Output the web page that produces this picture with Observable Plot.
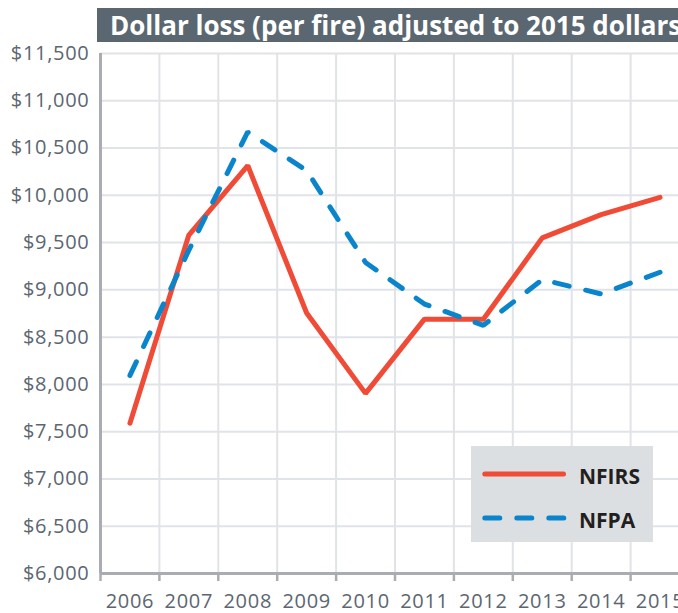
<!DOCTYPE html>
<html>
<head>
<meta charset="utf-8">
<script src="https://cdn.jsdelivr.net/npm/d3@7"></script>
<script src="https://cdn.jsdelivr.net/npm/@observablehq/plot@0.6"></script>
<style>
  html, body { margin: 0; padding: 0; background: #fff; overflow: hidden; width: 678px; height: 613px; }
  #wrap { position: relative; width: 678px; height: 613px; }
  #title { position: absolute; left: 97px; top: 8px; width: 600px; height: 34px; background: #5b6770;
    color: #fff; font-family: 'Open Sans', sans-serif; font-weight: 700; font-size: 26px; line-height: 34px;
    padding-left: 13px; white-space: nowrap; overflow: hidden; box-sizing: border-box; }
  #chart { position: absolute; left: 0; top: 0; }
  #legend { position: absolute; left: 471px; top: 446px; width: 182px; height: 96px; background: #dcdfe2; }
  #chart svg text { letter-spacing: 0.7px; }
</style>
</head>
<body>
<div id="wrap">
  <div id="chart"></div>
  <div id="title">Dollar loss (per fire) adjusted to 2015 dollars</div>
  <div id="legend"></div>
</div>
<script>
const years = [2006, 2007, 2008, 2009, 2010, 2011, 2012, 2013, 2014, 2015];
const nfirs = [7590, 9580, 10315, 8755, 7905, 8690, 8690, 9550, 9795, 9978];
const nfpa  = [8095, 9420, 10670, 10262, 9290, 8850, 8625, 9108, 8957, 9186];
const yTicks = [6000, 6500, 7000, 7500, 8000, 8500, 9000, 9500, 10000, 10500, 11000, 11500];
const yearBounds = [2005.5, 2006.5, 2007.5, 2008.5, 2009.5, 2010.5, 2011.5, 2012.5, 2013.5, 2014.5, 2015.5];
const seriesNames = ["NFIRS", "NFPA"];
const colors = ["#ef4b36", "#0a85cc"];

const rowsNfirs = years.map((y, i) => ({year: y, value: nfirs[i]}));
const rowsNfpa = years.map((y, i) => ({year: y, value: nfpa[i]}));

const axisColor = "#a9adb1";
const gridColor = "#e0e3e7";
const fmt = d3.format(",");

const plot = Plot.plot({
  width: 678,
  height: 613,
  marginTop: 53,
  marginBottom: 40,
  marginLeft: 100,
  marginRight: -11,
  x: {domain: [2005.5, 2015.5], range: [100, 689], label: null},
  y: {domain: [6000, 11500], label: null},
  style: {fontFamily: "'Open Sans', sans-serif", fontSize: "20px", color: "#5c6670", background: "transparent", overflow: "hidden"},
  marks: [
    Plot.gridY(yTicks, {stroke: gridColor, strokeOpacity: 1, strokeWidth: 2}),
    Plot.gridX(yearBounds, {stroke: gridColor, strokeOpacity: 1, strokeWidth: 2}),
    Plot.line(rowsNfirs, {x: "year", y: "value", stroke: colors[0], strokeWidth: 5, strokeLinejoin: "miter", strokeLinecap: "round"}),
    Plot.line(rowsNfpa, {x: "year", y: "value", stroke: colors[1], strokeWidth: 5, strokeLinejoin: "miter", strokeLinecap: "round", strokeDasharray: "15,17"}),
    Plot.ruleY([6000], {stroke: axisColor, strokeWidth: 3}),
    Plot.ruleX([2005.5], {stroke: axisColor, strokeWidth: 3}),
    Plot.axisY(yTicks, {label: null, tickSize: 0, tickPadding: 11, tickFormat: d => "$" + fmt(d), fill: "#5c6670"}),
    Plot.axisX(yearBounds, {label: null, tickSize: 8, tickFormat: () => "", stroke: axisColor, strokeWidth: 2.5, strokeOpacity: 1}),
    Plot.axisX(years, {label: null, tickSize: 0, tickPadding: 20, tickFormat: d => String(d), fill: "#5c6670"})
  ]
});
document.getElementById("chart").appendChild(plot);

// Legend
const ns = "http://www.w3.org/2000/svg";
const lg = document.createElementNS(ns, "svg");
lg.setAttribute("width", 182);
lg.setAttribute("height", 96);
const rowsY = [28, 72];
seriesNames.forEach((name, i) => {
  const ln = document.createElementNS(ns, "line");
  ln.setAttribute("x1", 13.8);
  ln.setAttribute("x2", i === 0 ? 92.5 : 92.8);
  ln.setAttribute("y1", rowsY[i]);
  ln.setAttribute("y2", rowsY[i]);
  ln.setAttribute("stroke", colors[i]);
  ln.setAttribute("stroke-width", 5);
  ln.setAttribute("stroke-linecap", "round");
  if (i === 1) ln.setAttribute("stroke-dasharray", "15,17");
  lg.appendChild(ln);
  const t = document.createElementNS(ns, "text");
  t.setAttribute("x", 108);
  t.setAttribute("y", rowsY[i] + 9.5);
  t.setAttribute("font-family", "'Open Sans', sans-serif");
  t.setAttribute("font-weight", "700");
  t.setAttribute("font-size", "21");
  t.setAttribute("fill", "#231f20");
  t.textContent = name;
  lg.appendChild(t);
});
document.getElementById("legend").appendChild(lg);
</script>
</body>
</html>
